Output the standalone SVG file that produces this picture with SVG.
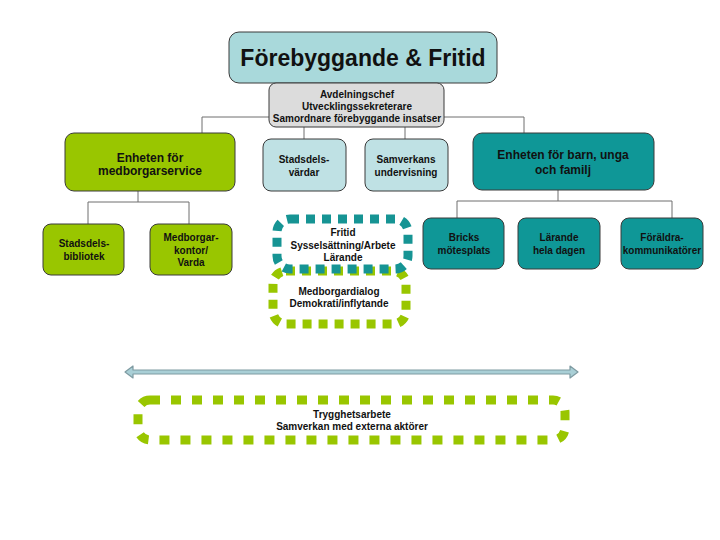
<svg xmlns="http://www.w3.org/2000/svg" width="720" height="540" viewBox="0 0 720 540">
<style>
.t{font-family:"Liberation Sans",Arial,sans-serif;font-weight:bold;fill:#111;text-anchor:middle}
.s{font-size:10px}
.m{font-size:12px}
.box{stroke:#3a3a3a;stroke-width:1}
.g{fill:#99c600}
.tl{fill:#0f9797}
.lb{fill:#bfe1e4}
.ln{fill:none;stroke:#6f6f6f;stroke-width:1}
</style>
<rect width="720" height="540" fill="#fff"/>
<g id="connectors">
<polyline class="ln" points="202,133 202,117 524,117 524,133"/>
<line class="ln" x1="304" y1="127" x2="304" y2="139"/>
<line class="ln" x1="405" y1="127" x2="405" y2="139"/>
<polyline class="ln" points="138,191 138,202"/>
<polyline class="ln" points="88,224 88,202 189,202 189,224"/>
<polyline class="ln" points="558,190 558,201"/>
<polyline class="ln" points="457,218 457,201 672,201 672,218"/>
</g>
<g id="title">
<rect class="box" x="229" y="32" width="268" height="51" rx="10" fill="#a9d9db"/>
<text class="t" x="363" y="65.5" font-size="23">Förebyggande &amp; Fritid</text>
</g>
<g id="avdelning">
<rect class="box" x="269" y="83" width="175" height="44" rx="7" fill="#dcdcdc"/>
<text class="t s" x="357" y="98">Avdelningschef</text>
<text class="t s" x="357" y="110">Utvecklingssekreterare</text>
<text class="t s" x="357" y="122">Samordnare förebyggande insatser</text>
</g>
<g id="medborgarservice">
<rect class="box g" x="65" y="133" width="170" height="58" rx="9"/>
<text class="t m" x="150" y="162">Enheten för</text>
<text class="t m" x="150" y="175">medborgarservice</text>
</g>
<g id="stadsdelsvardar">
<rect class="box lb" x="263" y="139" width="83" height="52" rx="8"/>
<text class="t s" x="304" y="163">Stadsdels-</text>
<text class="t s" x="304" y="176">värdar</text>
</g>
<g id="samverkans">
<rect class="box lb" x="365" y="139" width="83" height="52" rx="8"/>
<text class="t s" x="406" y="163">Samverkans</text>
<text class="t s" x="406" y="176">undervisning</text>
</g>
<g id="barn">
<rect class="box tl" x="473" y="133" width="181" height="57" rx="9"/>
<text class="t m" x="563" y="159">Enheten för barn, unga</text>
<text class="t m" x="563" y="174">och familj</text>
</g>
<g id="bibliotek">
<rect class="box g" x="43" y="224" width="81" height="51" rx="8"/>
<text class="t s" x="84" y="247">Stadsdels-</text>
<text class="t s" x="84" y="260">bibliotek</text>
</g>
<g id="medborgarkontor">
<rect class="box g" x="150" y="224" width="82" height="51" rx="8"/>
<text class="t s" x="191" y="241">Medborgar-</text>
<text class="t s" x="191" y="254">kontor/</text>
<text class="t s" x="191" y="266">Varda</text>
</g>
<g id="bricks">
<rect class="box tl" x="423" y="218" width="81" height="51" rx="8"/>
<text class="t s" x="464" y="241">Bricks</text>
<text class="t s" x="464" y="254">mötesplats</text>
</g>
<g id="larande">
<rect class="box tl" x="518" y="218" width="82" height="51" rx="8"/>
<text class="t s" x="559" y="241">Lärande</text>
<text class="t s" x="559" y="254">hela dagen</text>
</g>
<g id="foraldra">
<rect class="box tl" x="621" y="218" width="82" height="51" rx="8"/>
<text class="t s" x="662" y="241">Föräldra-</text>
<text class="t s" x="662" y="254">kommunikatörer</text>
</g>
<g id="medborgardialog">
<rect x="273" y="271" width="133" height="53" rx="13" fill="none" stroke="#99c600" stroke-width="9" stroke-dasharray="9 7"/>
<text class="t s" x="339" y="295">Medborgardialog</text>
<text class="t s" x="339" y="307">Demokrati/inflytande</text>
</g>
<g id="fritid">
<rect x="277" y="219" width="131" height="50" rx="13" fill="none" stroke="#169494" stroke-width="9" stroke-dasharray="9 7"/>
<text class="t s" x="343" y="236">Fritid</text>
<text class="t s" x="343" y="249">Sysselsättning/Arbete</text>
<text class="t s" x="343" y="261">Lärande</text>
</g>
<g id="arrow">
<path d="M125,372 L133,366 L133,370 L570,370 L570,366 L578,372 L570,378 L570,374 L133,374 L133,378 Z" fill="#a9cfd6" stroke="#7f9ba2" stroke-width="1.2" stroke-linejoin="round"/>
</g>
<g id="trygghet">
<rect x="138" y="400" width="427" height="40" rx="12" fill="none" stroke="#99c600" stroke-width="9" stroke-dasharray="10 11"/>
<text class="t s" x="352" y="418">Trygghetsarbete</text>
<text class="t s" x="352" y="430">Samverkan med externa aktörer</text>
</g>
</svg>
